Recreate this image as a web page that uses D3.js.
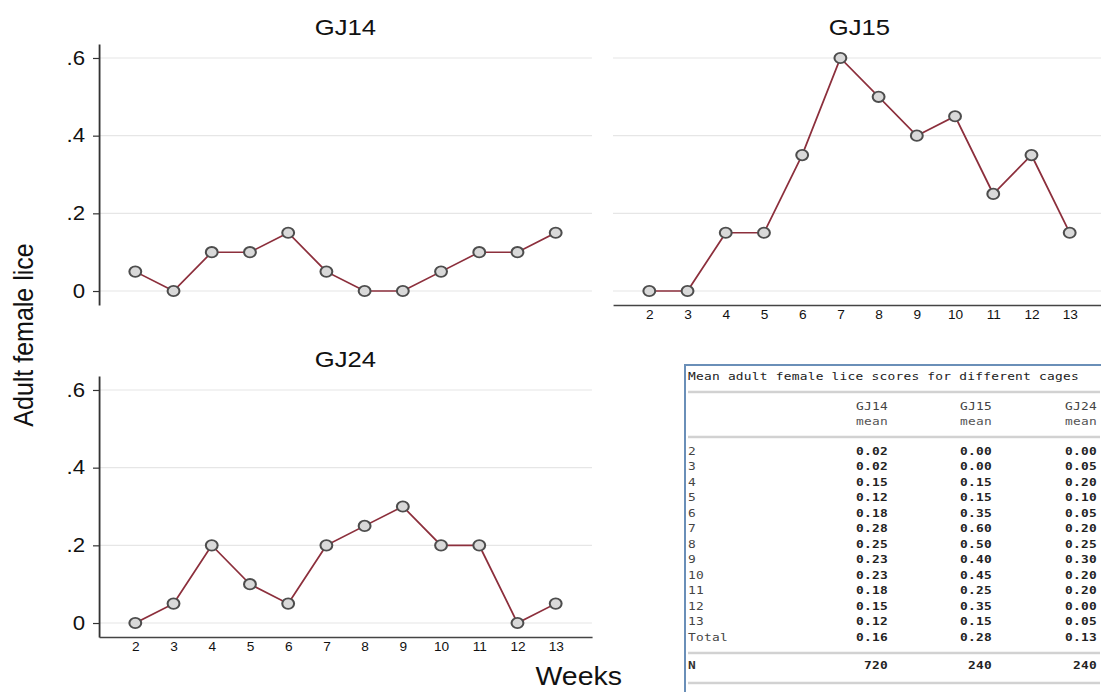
<!DOCTYPE html>
<html><head><meta charset="utf-8">
<script src="https://cdn.jsdelivr.net/npm/d3@7"></script>
<style>html,body{margin:0;padding:0;background:#fff;}svg{display:block;}</style>
</head><body>
<script>
// ---- data ----
const weeks = [2,3,4,5,6,7,8,9,10,11,12,13];
const gj14 = [0.05,0,0.10,0.10,0.15,0.05,0,0,0.05,0.10,0.10,0.15];
const gj15 = [0,0,0.15,0.15,0.35,0.60,0.50,0.40,0.45,0.25,0.35,0.15];
const gj24 = [0,0.05,0.20,0.10,0.05,0.20,0.25,0.30,0.20,0.20,0,0.05];
const yTicks = [0,0.2,0.4,0.6];
const panelTitles = ["GJ14","GJ15","GJ24"];
const yTitle = "Adult female lice";
const xTitle = "Weeks";

const tableTitle = "Mean adult female lice scores for different cages";
const tableCols = ["GJ14","GJ15","GJ24"];
const tableSub = "mean";
const tableRowLabels = ["2","3","4","5","6","7","8","9","10","11","12","13","Total"];
const tabGJ14 = [0.02,0.02,0.15,0.12,0.18,0.28,0.25,0.23,0.23,0.18,0.15,0.12,0.16];
const tabGJ15 = [0.00,0.00,0.15,0.15,0.35,0.60,0.50,0.40,0.45,0.25,0.35,0.15,0.28];
const tabGJ24 = [0.00,0.05,0.20,0.10,0.05,0.20,0.25,0.30,0.20,0.20,0.00,0.05,0.13];
const tabN = [720,240,240];

// ---- layout ----
const W = 1101, H = 692;
const S = 1.14; // horizontal stretch of the reference
const X = v => v / S;

const svg = d3.select("body").append("svg").attr("width",W).attr("height",H);
const root = svg.append("g").attr("transform",`scale(${S},1)`);

const font = "'Liberation Sans', Arial, Helvetica, sans-serif";
const lineColor = "#8c2f3c";
const yFmt = d => d === 0 ? "0" : d3.format(".1f")(d).replace(/^0/,"");

const panels = [
  {name:panelTitles[0], vals:gj14, x0:99, x1:592, yTop:44, yBot:305, yaxis:true, xaxis:false},
  {name:panelTitles[1], vals:gj15, x0:613, x1:1106, yTop:44, yBot:305, yaxis:false, xaxis:true},
  {name:panelTitles[2], vals:gj24, x0:99, x1:592, yTop:376, yBot:637, yaxis:true, xaxis:true}
];

panels.forEach(p => {
  const x = d3.scaleLinear().domain([1.05,13.95]).range([X(p.x0), X(p.x1)]);
  const y = d3.scaleLinear().domain([-0.036,0.636]).range([p.yBot, p.yTop]);
  const g = root.append("g");

  g.selectAll("line.grid").data(yTicks).join("line")
    .attr("x1",X(p.x0)).attr("x2",X(p.x1))
    .attr("y1",d=>y(d)).attr("y2",d=>y(d))
    .attr("stroke","#e6e6e6").attr("stroke-width",1.2);

  if (p.yaxis) {
    const ax = g.append("g").attr("transform",`translate(${X(p.x0)},0)`)
      .call(d3.axisLeft(y).tickValues(yTicks).tickFormat(yFmt).tickSize(X(6)).tickSizeOuter(0).tickPadding(X(8)));
    ax.select(".domain").attr("stroke","#333").attr("stroke-width",1.6);
    ax.selectAll(".tick line").attr("stroke","#333").attr("stroke-width",1.2);
    ax.selectAll(".tick text").attr("font-family",font).attr("font-size",19.5).attr("fill","#111");
  }
  if (p.xaxis) {
    const ax = g.append("g").attr("transform",`translate(0,${p.yBot})`)
      .call(d3.axisBottom(x).tickValues(weeks).tickFormat(d3.format("d")).tickSize(0).tickSizeOuter(0).tickPadding(5.5));
    ax.select(".domain").attr("stroke","#444").attr("stroke-width",1.6);
    ax.selectAll(".tick text").attr("font-family",font).attr("font-size",12).attr("fill","#111");
  }

  g.append("text").attr("x",(X(p.x0)+X(p.x1))/2).attr("y",p.yTop-9)
    .attr("text-anchor","middle").attr("font-family",font).attr("font-size",22.5).attr("fill","#111")
    .text(p.name);

  const pts = weeks.map((w,i)=>({w, v:p.vals[i]}));
  g.append("path").datum(pts)
    .attr("d", d3.line().x(d=>x(d.w)).y(d=>y(d.v)))
    .attr("fill","none").attr("stroke",lineColor).attr("stroke-width",1.6);
  g.selectAll("circle.m").data(pts).join("circle")
    .attr("cx",d=>x(d.w)).attr("cy",d=>y(d.v)).attr("r",5.2)
    .attr("fill","#d9d9d9").attr("stroke","#4d4d4d").attr("stroke-width",1.8);
});

root.append("text").attr("transform",`translate(${X(33)},335) rotate(-90)`)
  .attr("text-anchor","middle").attr("font-family",font).attr("font-size",25).attr("fill","#111")
  .text(yTitle);
root.append("text").attr("x",X(622)).attr("y",685)
  .attr("text-anchor","end").attr("font-family",font).attr("font-size",25).attr("fill","#111")
  .text(xTitle);

// ---- table ----
const mono = "'DejaVu Sans Mono', 'Liberation Mono', monospace";
const tg = root.append("g");
tg.append("line").attr("x1",X(685)).attr("x2",X(1101)).attr("y1",365).attr("y2",365)
  .attr("stroke","#6a8fb8").attr("stroke-width",2);
tg.append("line").attr("x1",X(685)).attr("x2",X(685)).attr("y1",364).attr("y2",692)
  .attr("stroke","#6a8fb8").attr("stroke-width",2/S);

const tText = (x,y,txt,anchor,weight,color) => tg.append("text")
  .attr("x",X(x)).attr("y",y).attr("text-anchor",anchor)
  .attr("font-family",mono).attr("font-size",11.3).attr("letter-spacing",0.2)
  .attr("font-weight",weight).attr("fill",color).text(txt);

tText(688,380,tableTitle,"start","normal","#222");
const dbl = y => [y-0.7,y+0.7].forEach(yy => tg.append("line").attr("x1",X(688)).attr("x2",X(1100))
  .attr("y1",yy).attr("y2",yy).attr("stroke","#bdbdbd").attr("stroke-width",0.8));
dbl(392); dbl(437); dbl(653); dbl(683);

const colRight = [888,992,1097];
tableCols.forEach((c,i)=>{
  tText(colRight[i],410,c,"end","normal","#444");
  tText(colRight[i],425,tableSub,"end","normal","#555");
});
const tabCols = [tabGJ14,tabGJ15,tabGJ24];
tableRowLabels.forEach((lab,r)=>{
  const yy = 455 + r*15.5;
  tText(688,yy,lab,"start","normal","#444");
  tabCols.forEach((col,i)=> tText(colRight[i],yy,col[r].toFixed(2),"end","bold","#222"));
});
tText(688,669,"N","start","bold","#333");
tabN.forEach((n,i)=> tText(colRight[i],669,String(n),"end","bold","#222"));
</script>
</body></html>
